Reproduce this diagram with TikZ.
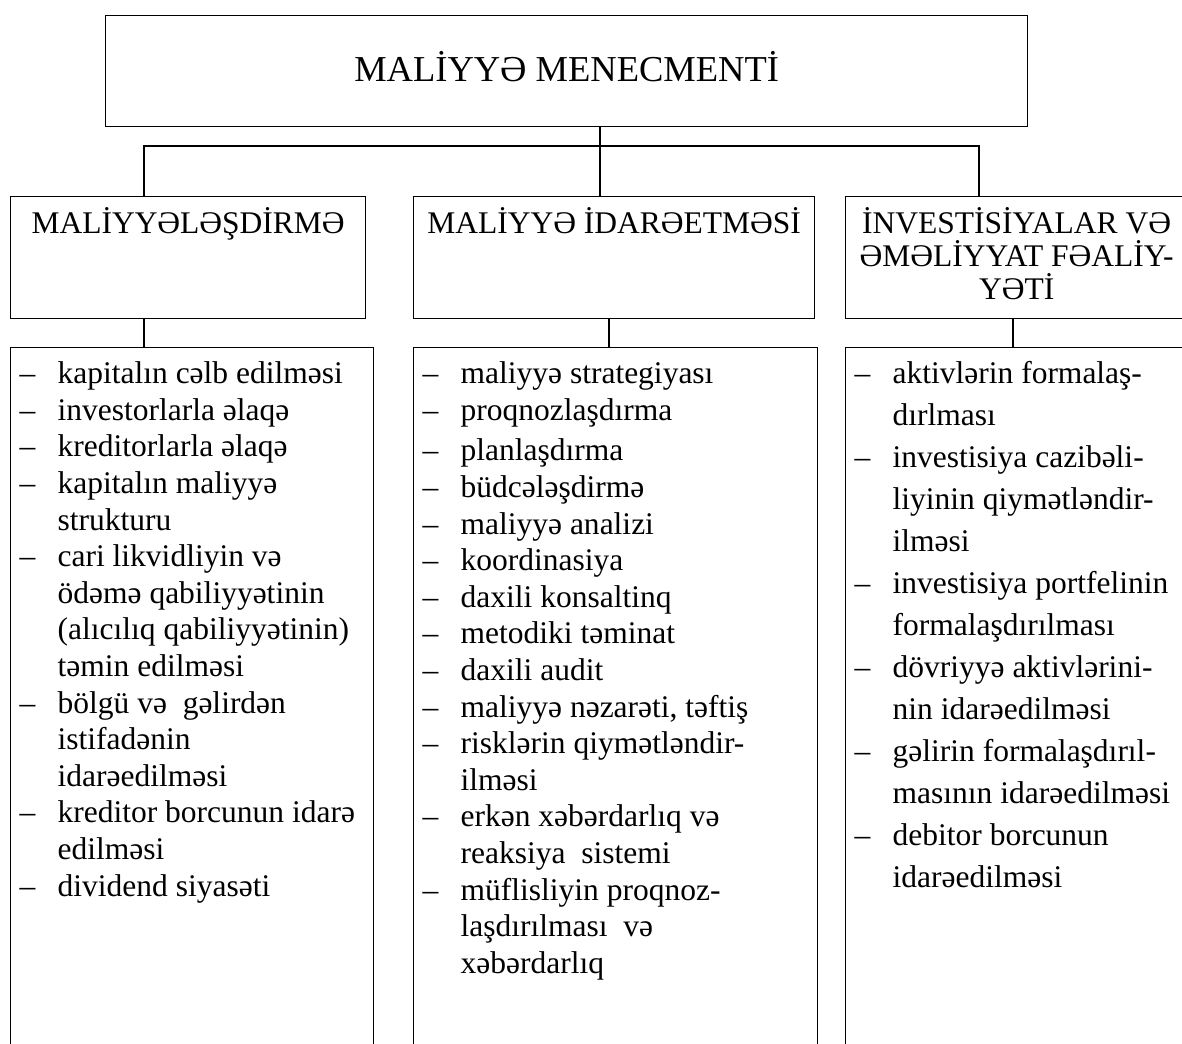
\documentclass[tikz,border=0pt]{standalone}
\usepackage{fontspec}
\setmainfont{Liberation Serif}
\usepackage{tikz}

\newcommand{\itm}[1]{\par\noindent\hangindent=47pt\hangafter=1\makebox[47pt][l]{\hspace{9pt}–}#1}

\begin{document}
\begin{tikzpicture}[x=1pt, y=-1pt,
    box/.style={draw, line width=1.3pt, inner sep=0pt, anchor=north west},
    link/.style={line width=1.3pt},
    title/.style={font=\fontsize{36.5}{40}\selectfont},
    head/.style={font=\fontsize{31.5}{33}\selectfont},
    list/.style={font=\fontsize{31.5}{36.6}\selectfont}]
  \path[use as bounding box, clip] (0,0) rectangle (1182,1043);

  \node[box, title] (mm) at (105,15) {\begin{minipage}[t][111pt][t]{922pt}\centering\rule{0pt}{66pt}MALİYYƏ MENECMENTİ\end{minipage}};

  \node[box, head] (fin) at (10,196) {\begin{minipage}[t][122pt][t]{355pt}\centering\rule{0pt}{37pt}MALİYYƏLƏŞDİRMƏ\end{minipage}};
  \node[box, head] (ida) at (413,196) {\begin{minipage}[t][122pt][t]{401pt}\centering\rule{0pt}{37pt}MALİYYƏ İDARƏETMƏSİ\end{minipage}};
  \node[box, head] (inv) at (845,196) {\begin{minipage}[t][122pt][t]{342pt}\centering\rule{0pt}{37pt}İNVESTİSİYALAR VƏ\\ ƏMƏLİYYAT FƏALİY-\\ YƏTİ\end{minipage}};

  \node[box, list] (finl) at (10,347) {\begin{minipage}[t][760pt][t]{363pt}\raggedright
    \itm{\rule{0pt}{36pt}kapitalın cəlb edilməsi}
    \itm{investorlarla əlaqə}
    \itm{kreditorlarla əlaqə}
    \itm{kapitalın maliyyə\newline strukturu}
    \itm{cari likvidliyin və\newline ödəmə qabiliyyətinin\newline (alıcılıq qabiliyyətinin)\newline təmin edilməsi}
    \itm{bölgü və\ \ gəlirdən\newline istifadənin\newline idarəedilməsi}
    \itm{kreditor borcunun idarə\newline edilməsi}
    \itm{dividend siyasəti}
  \end{minipage}};
  \node[box, list] (idal) at (413,347) {\begin{minipage}[t][760pt][t]{404pt}\raggedright
    \itm{\rule{0pt}{36pt}maliyyə strategiyası}
    \itm{proqnozlaşdırma}\par\vspace{4pt}
    \itm{planlaşdırma}
    \itm{büdcələşdirmə}
    \itm{maliyyə analizi}
    \itm{koordinasiya}
    \itm{daxili konsaltinq}
    \itm{metodiki təminat}
    \itm{daxili audit}
    \itm{maliyyə nəzarəti, təftiş}
    \itm{risklərin qiymətləndir-\newline ilməsi}
    \itm{erkən xəbərdarlıq və\newline reaksiya\ \ sistemi}
    \itm{müflisliyin proqnoz-\newline laşdırılması\ \ və\newline xəbərdarlıq}
  \end{minipage}};
  \node[box, list, font=\fontsize{31.5}{42}\selectfont] (invl) at (845,347) {\begin{minipage}[t][760pt][t]{342pt}\raggedright
    \itm{\rule{0pt}{36pt}aktivlərin formalaş-\newline dırlması}
    \itm{investisiya cazibəli-\newline liyinin qiymətləndir-\newline ilməsi}
    \itm{investisiya portfelinin\newline formalaşdırılması}
    \itm{dövriyyə aktivlərini-\newline nin idarəedilməsi}
    \itm{gəlirin formalaşdırıl-\newline masının idarəedilməsi}
    \itm{debitor borcunun\newline idarəedilməsi}
  \end{minipage}};

  \coordinate (bl) at (144,146);
  \coordinate (bc) at (600,146);
  \coordinate (br) at (979,146);
  \draw[link] (mm.south -| bc) -- (ida.north -| bc);
  \draw[link] (fin.north -| bl) -- (bl) -- (br) -- (inv.north -| br);
  \draw[link] (fin.south -| 144,0) -- (finl.north -| 144,0);
  \draw[link] (ida.south -| 609,0) -- (idal.north -| 609,0);
  \draw[link] (inv.south -| 1013,0) -- (invl.north -| 1013,0);
\end{tikzpicture}
\end{document}
